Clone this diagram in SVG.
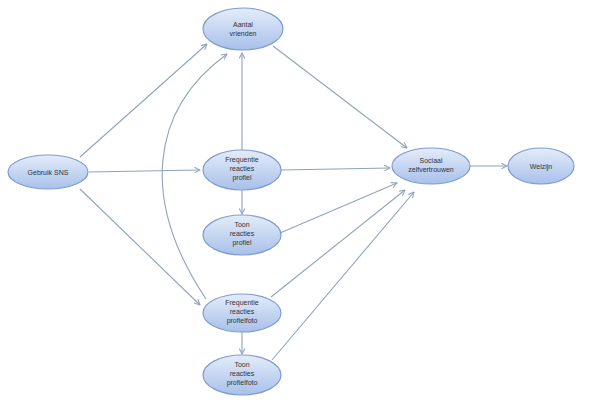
<svg xmlns="http://www.w3.org/2000/svg" width="595" height="404" viewBox="0 0 595 404">
<style>
.node ellipse{fill:url(#g);stroke:#7f9ccf;stroke-width:1.2}
.node text{font-family:"Liberation Sans",Arial,sans-serif;font-size:7px;fill:#333;text-anchor:middle}
#edges path{fill:none;stroke:#8ea4bd;stroke-width:1.1;marker-end:url(#a)}
</style>
<defs>
<linearGradient id="g" x1="0" y1="0" x2="0" y2="1">
<stop offset="0" stop-color="#e4ecf9"/>
<stop offset="1" stop-color="#a8c0ea"/>
</linearGradient>
<marker id="a" viewBox="0 0 10 10" refX="9" refY="5" markerWidth="7" markerHeight="7" markerUnits="userSpaceOnUse" orient="auto">
<path d="M1,1 L9,5 L1,9" fill="none" stroke="#8ea4bd" stroke-width="1.5"/>
</marker>
</defs>
<rect width="595" height="404" fill="#fff"/>
<g id="edges">
<path d="M80,157 L207,44"/>
<path d="M89,172 L200,170"/>
<path d="M80,189 L200,305"/>
<path d="M206,299 C140,200 150,110 227,54"/>
<path d="M242,150 L242,53"/>
<path d="M273,46 L407,148"/>
<path d="M281,170 L390,168"/>
<path d="M280,233 L397,183"/>
<path d="M271,297 L405,190"/>
<path d="M272,360 L414,192"/>
<path d="M242,190 L242,214"/>
<path d="M242,332 L242,354"/>
<path d="M470,166 L507,166"/>
</g>
<g id="aantal" class="node"><ellipse cx="243" cy="29" rx="40" ry="21"/><text x="243" y="27">Aantal</text><text x="243" y="36">vrienden</text></g>
<g id="gebruik" class="node"><ellipse cx="48" cy="172" rx="40" ry="17"/><text x="48" y="175">Gebruik SNS</text></g>
<g id="freqprofiel" class="node"><ellipse cx="242" cy="170" rx="39" ry="20"/><text x="242" y="162">Frequentie</text><text x="242" y="171">reacties</text><text x="242" y="180">profiel</text></g>
<g id="toonprofiel" class="node"><ellipse cx="242" cy="235" rx="39" ry="20"/><text x="242" y="227">Toon</text><text x="242" y="236">reacties</text><text x="242" y="245">profiel</text></g>
<g id="sociaal" class="node"><ellipse cx="431" cy="166" rx="39" ry="18"/><text x="431" y="163">Sociaal</text><text x="431" y="172">zelfvertrouwen</text></g>
<g id="welzijn" class="node"><ellipse cx="541" cy="166" rx="33" ry="18"/><text x="541" y="169">Welzijn</text></g>
<g id="freqfoto" class="node"><ellipse cx="242" cy="313" rx="39" ry="19"/><text x="242" y="305">Frequentie</text><text x="242" y="314">reacties</text><text x="242" y="323">profielfoto</text></g>
<g id="toonfoto" class="node"><ellipse cx="242" cy="375" rx="39" ry="20"/><text x="242" y="367">Toon</text><text x="242" y="376">reacties</text><text x="242" y="385">profielfoto</text></g>
</svg>
